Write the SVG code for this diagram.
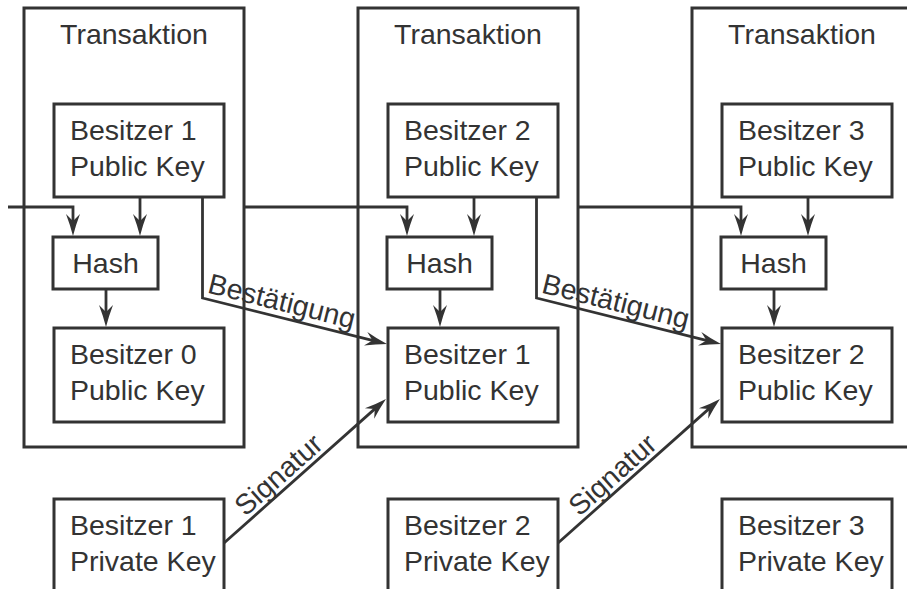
<svg xmlns="http://www.w3.org/2000/svg" width="907" height="589" viewBox="0 0 907 589">
<defs>
<style>
.box{fill:#fff;stroke:#333;stroke-width:3}
.frame{fill:none;stroke:#333;stroke-width:3}
.t{font-family:"Liberation Sans",Arial,sans-serif;font-size:28.5px;fill:#333}
.c{text-anchor:middle}
.ln{fill:none;stroke:#333;stroke-width:2.8;stroke-linejoin:miter}
.arr{marker-end:url(#ah)}
</style>
<marker id="ah" markerUnits="userSpaceOnUse" markerWidth="26" markerHeight="18" viewBox="-13 -9 26 18" refX="0" refY="0" orient="auto">
<path d="M10,0 Q-1,-2.8 -12,-7 L-5,0 L-12,7 Q-1,2.8 10,0 Z" fill="#333"/>
</marker>
</defs>
<rect width="907" height="589" fill="#fff"/>

<g id="tx1">
<rect class="frame" x="24" y="8" width="220" height="439"/>
<text class="t c" x="134" y="44">Transaktion</text>
</g>
<g id="tx2">
<rect class="frame" x="358" y="8" width="220" height="439"/>
<text class="t c" x="468" y="44">Transaktion</text>
</g>
<g id="tx3">
<rect class="frame" x="692" y="8" width="220" height="439"/>
<text class="t c" x="802" y="44">Transaktion</text>
</g>

<g id="pk1top">
<rect class="box" x="54" y="104" width="170" height="93"/>
<text class="t" x="70" y="140">Besitzer 1</text>
<text class="t" x="70" y="176">Public Key</text>
</g>
<g id="pk2top">
<rect class="box" x="388" y="104" width="170" height="93"/>
<text class="t" x="404" y="140">Besitzer 2</text>
<text class="t" x="404" y="176">Public Key</text>
</g>
<g id="pk3top">
<rect class="box" x="722" y="104" width="170" height="93"/>
<text class="t" x="738" y="140">Besitzer 3</text>
<text class="t" x="738" y="176">Public Key</text>
</g>

<g id="hash1">
<rect class="box" x="53" y="237" width="105" height="52"/>
<text class="t c" x="105.5" y="273">Hash</text>
</g>
<g id="hash2">
<rect class="box" x="387" y="237" width="105" height="52"/>
<text class="t c" x="439.5" y="273">Hash</text>
</g>
<g id="hash3">
<rect class="box" x="721" y="237" width="105" height="52"/>
<text class="t c" x="773.5" y="273">Hash</text>
</g>

<g id="pk0">
<rect class="box" x="54" y="328" width="170" height="94"/>
<text class="t" x="70" y="364">Besitzer 0</text>
<text class="t" x="70" y="400">Public Key</text>
</g>
<g id="pk1">
<rect class="box" x="388" y="328" width="170" height="94"/>
<text class="t" x="404" y="364">Besitzer 1</text>
<text class="t" x="404" y="400">Public Key</text>
</g>
<g id="pk2">
<rect class="box" x="722" y="328" width="170" height="94"/>
<text class="t" x="738" y="364">Besitzer 2</text>
<text class="t" x="738" y="400">Public Key</text>
</g>

<g id="priv1">
<rect class="box" x="54" y="499" width="170" height="110"/>
<text class="t" x="70" y="535">Besitzer 1</text>
<text class="t" x="70" y="571">Private Key</text>
</g>
<g id="priv2">
<rect class="box" x="388" y="499" width="170" height="110"/>
<text class="t" x="404" y="535">Besitzer 2</text>
<text class="t" x="404" y="571">Private Key</text>
</g>
<g id="priv3">
<rect class="box" x="722" y="499" width="170" height="110"/>
<text class="t" x="738" y="535">Besitzer 3</text>
<text class="t" x="738" y="571">Private Key</text>
</g>

<g id="connectors">
<path class="ln arr" d="M8 207 H73 V226"/>
<path class="ln arr" d="M140 197 V226"/>
<path class="ln arr" d="M106 289 V317"/>
<path class="ln arr" d="M244 207 H407 V226"/>
<path class="ln arr" d="M474 197 V226"/>
<path class="ln arr" d="M440 289 V317"/>
<path class="ln arr" d="M578 207 H741 V226"/>
<path class="ln arr" d="M808 197 V226"/>
<path class="ln arr" d="M774 289 V317"/>
<path class="ln arr" d="M202.5 197 V298 L377.3 341.6"/>
<path class="ln arr" d="M536.5 197 V298 L711.3 341.6"/>
<path class="ln arr" d="M224 543 L378.5 405.6"/>
<path class="ln arr" d="M558 543 L712.5 405.6"/>
<text class="t" transform="translate(206.5 292.5) rotate(13.96)">Bestätigung</text>
<text class="t" transform="translate(540.5 292.5) rotate(13.96)">Bestätigung</text>
<text class="t c" transform="translate(285 482) rotate(-41.63)">Signatur</text>
<text class="t c" transform="translate(619 482) rotate(-41.63)">Signatur</text>
</g>
</svg>
